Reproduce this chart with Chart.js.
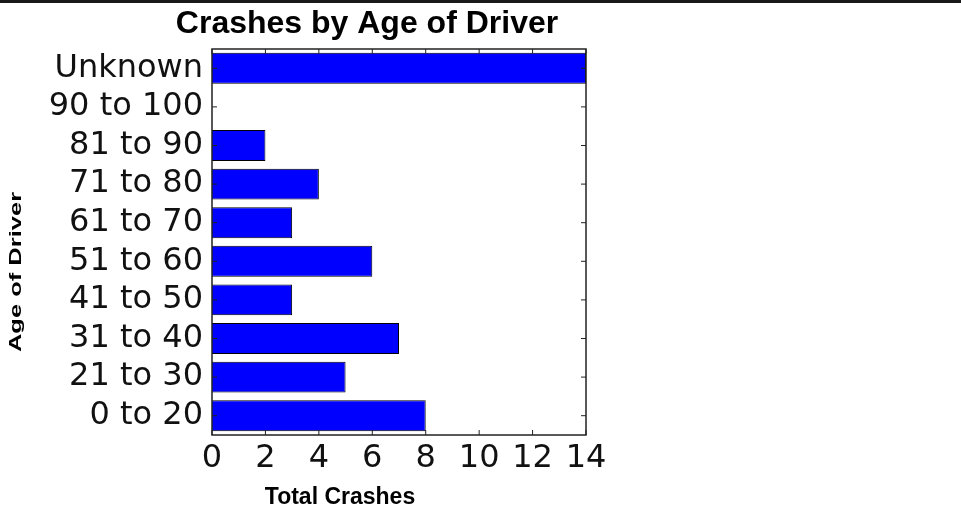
<!DOCTYPE html>
<html>
<head>
<meta charset="utf-8">
<script src="https://cdn.jsdelivr.net/npm/chart.js@4/dist/chart.umd.min.js"></script>
<style>
  html, body { margin: 0; padding: 0; background: #fff; }
  #wykres { display: block; }
</style>
</head>
<body>
<canvas id="wykres" width="961" height="508"></canvas>
<script>
// age groups, top to bottom as in the picture
var ageGroups = ['Unknown', '90 to 100', '81 to 90', '71 to 80', '61 to 70',
                 '51 to 60', '41 to 50', '31 to 40', '21 to 30', '0 to 20'];
var crashCounts = [14, 0, 2, 4, 3, 6, 3, 7, 5, 8];
var crashTicks = [0, 2, 4, 6, 8, 10, 12, 14];

var chartTitle = 'Crashes by Age of Driver';
var xTitle = 'Total Crashes';
var yTitle = 'Age of Driver';

// ramka, tick marks pointing inwards on all four sides, and the texts
var frameAndTexts = {
    id: 'frameAndTexts',
    beforeDraw: function (chart) {
        var ctx = chart.ctx;
        ctx.save();
        ctx.fillStyle = '#fff';
        ctx.fillRect(0, 0, chart.width, chart.height);
        ctx.fillStyle = '#1a1a1a';
        ctx.fillRect(0, 0, chart.width, 3);
        ctx.restore();
    },
    afterDatasetsDraw: function (chart) {
        var ctx = chart.ctx;
        var area = chart.chartArea;
        var xs = chart.scales.x;
        var ys = chart.scales.y;
        var tick = 5;

        ctx.save();
        ctx.strokeStyle = '#222';
        ctx.lineWidth = 1;
        ctx.beginPath();
        crashTicks.forEach(function (v) {
            var px = xs.getPixelForValue(v);
            ctx.moveTo(px, area.bottom);
            ctx.lineTo(px, area.bottom - tick);
            ctx.moveTo(px, area.top);
            ctx.lineTo(px, area.top + tick);
        });
        ageGroups.forEach(function (g, i) {
            var py = ys.getPixelForValue(i);
            ctx.moveTo(area.left, py);
            ctx.lineTo(area.left + tick, py);
            ctx.moveTo(area.right, py);
            ctx.lineTo(area.right - tick, py);
        });
        ctx.stroke();

        ctx.lineWidth = 1.5;
        ctx.strokeRect(area.left, area.top, area.right - area.left, area.bottom - area.top);

        ctx.fillStyle = '#000';
        ctx.textAlign = 'center';
        ctx.textBaseline = 'alphabetic';
        ctx.font = 'bold 32px "Liberation Sans", Arial, sans-serif';
        ctx.fillText(chartTitle, 367, 33);

        ctx.font = 'bold 23px "Liberation Sans", Arial, sans-serif';
        ctx.fillText(xTitle, 340, 504);

        // the y title is stretched along its length in the picture
        ctx.translate(16, 272);
        ctx.rotate(-Math.PI / 2);
        ctx.scale(1.5, 1);
        ctx.textBaseline = 'middle';
        ctx.font = 'bold 17px "Liberation Sans", Arial, sans-serif';
        ctx.fillText(yTitle, 0, 0);
        ctx.restore();
    }
};

var ctx = document.getElementById('wykres').getContext('2d');
var myChart = new Chart(ctx, {
    type: 'bar',
    data: {
        labels: ageGroups,
        datasets: [{
            label: xTitle,
            data: crashCounts,
            backgroundColor: '#0000ff',
            borderColor: '#000',
            borderWidth: 1,
            barPercentage: 0.8,
            categoryPercentage: 1.0
        }]
    },
    options: {
        indexAxis: 'y',
        responsive: false,
        animation: false,
        layout: {
            padding: { top: 49, right: 375, bottom: 0, left: 0 }
        },
        plugins: {
            legend: { display: false },
            title: { display: false },
            tooltip: { enabled: false }
        },
        scales: {
            x: {
                min: 0,
                max: 14,
                afterFit: function (scale) { scale.height = 73; },
                afterBuildTicks: function (scale) {
                    scale.ticks = crashTicks.map(function (v) { return { value: v }; });
                },
                grid: { display: false, drawTicks: false },
                border: { display: false },
                ticks: {
                    color: '#111',
                    padding: 4,
                    maxRotation: 0,
                    autoSkip: false,
                    font: { family: '"DejaVu Sans"', size: 32 }
                }
            },
            y: {
                afterFit: function (scale) { scale.width = 212; },
                grid: { display: false, drawTicks: false },
                border: { display: false },
                ticks: {
                    color: '#111',
                    padding: 9,
                    autoSkip: false,
                    font: { family: '"DejaVu Sans"', size: 32 }
                }
            }
        }
    },
    plugins: [frameAndTexts]
});
</script>
</body>
</html>
